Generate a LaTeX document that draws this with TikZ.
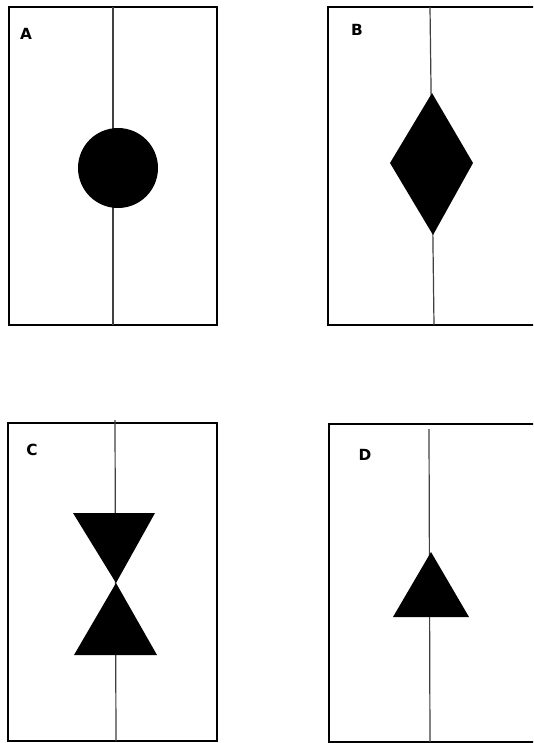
\documentclass[tikz,border=0pt]{standalone}
\usepackage{fontspec}
\setmainfont{DejaVu Sans}
\begin{document}
\begin{tikzpicture}[x=0.75pt,y=-0.75pt,
  frame/.style={line width=2pt,draw=black},
  axisline/.style={line width=0.9pt,draw=black!75},
  solidmark/.style={fill=black,draw=none},
  lab/.style={font=\bfseries\fontsize{11.5}{12}\selectfont,inner sep=0pt}]
\useasboundingbox[fill=white] (0,0) rectangle (533,743);
\begin{scope}
\clip (0,0) rectangle (533,743);
% Panel A
\draw[frame] (9,7) rectangle (217,325);
\draw[axisline] (113,7) -- (113,325);
\fill[solidmark] (118,168) circle (40);
\node[lab] (la) at (26,34) {A};
% Panel B
\draw[frame] (328,7) rectangle (560,325);
\draw[axisline] (430,7) -- (434,325);
\fill[solidmark] (432,93) -- (473,163) -- (433,235) -- (390,163) -- cycle;
\node[lab] (lb) at (357,30) {B};
% Panel C
\draw[frame] (8,423) rectangle (217,741);
\draw[axisline] (115,420) -- (116,741);
\fill[solidmark] (73,513) -- (155,513) -- (116,583) -- cycle;
\fill[solidmark] (116,583) -- (157,655) -- (74,655) -- cycle;
\node[lab] (lc) at (32,450) {C};
% Panel D
\draw[frame] (329,424) rectangle (560,742);
\draw[axisline] (429,429) -- (430,742);
\fill[solidmark] (431,552) -- (469,617) -- (393,617) -- cycle;
\node[lab] (ld) at (365,455) {D};
\end{scope}
\end{tikzpicture}
\end{document}
